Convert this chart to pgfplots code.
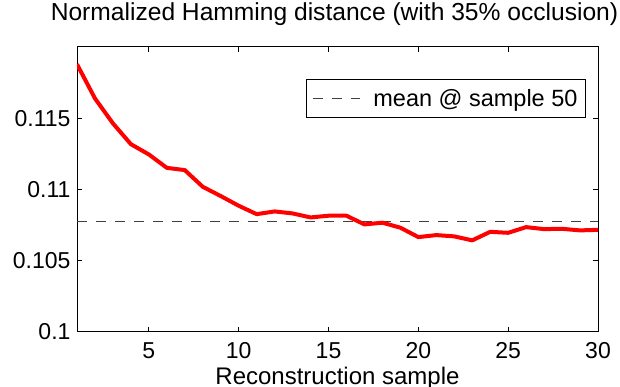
\documentclass[border=0pt]{standalone}
\usepackage{pgfplots}
\pgfplotsset{compat=1.18}
\usepackage{fontspec}
\setmainfont{Liberation Sans}
\usetikzlibrary{calc}
\definecolor{dashgray}{RGB}{64,64,64}
\begin{document}
\begin{tikzpicture}
\begin{axis}[
  scale only axis, width=521pt, height=285pt,
  xmin=1, xmax=30, ymin=0.1, ymax=0.12,
  xtick={5,10,15,20,25,30},
  xticklabels={5,10,15,20,25,30},
  ytick={0.1,0.105,0.11,0.115},
  yticklabels={0.1,0.105,0.11,0.115},
  tick align=inside, major tick length=5pt,
  axis line style={line width=1pt},
  every tick/.style={black, line width=1pt},
  tick label style={font=\fontsize{23}{27}\selectfont},
  xticklabel style={anchor=base, yshift=-27pt},
  yticklabel style={anchor=east, xshift=-3pt},
  title={Normalized Hamming distance (with 35\% occlusion)},
  title style={font=\fontsize{24.6}{29}\selectfont, at={(0.5,1)}, anchor=base, yshift=20pt, xshift=-3pt},
  xlabel={Reconstruction sample},
  xlabel style={font=\fontsize{24}{29}\selectfont, at={(0.5,0)}, anchor=base, yshift=-53pt},
  legend style={font=\fontsize{23.5}{28}\selectfont, at={(0.977,0.888)}, anchor=north east, draw=black, line width=1pt,
    inner xsep=6pt, inner ysep=8pt, cells={anchor=west}},
  legend image code/.code={\draw[#1] (0pt,0pt) -- (47pt,0pt);},
]
\addplot[dashgray, line width=1.3pt, dash pattern=on 10pt off 9pt] coordinates {(1,0.10773) (30,0.10773)};
\addlegendentry{\hspace{11pt}mean @ sample 50}
\addplot[red, line width=4pt, line join=round, forget plot] coordinates {
(1,0.11879) (2,0.11639) (3,0.11464) (4,0.11318) (5,0.11246) (6,0.11152)
(7,0.11136) (8,0.11019) (9,0.10954) (10,0.10886) (11,0.10827) (12,0.10846)
(13,0.10832) (14,0.10804) (15,0.10816) (16,0.10816) (17,0.10755) (18,0.10767)
(19,0.10732) (20,0.10666) (21,0.10680) (22,0.10671) (23,0.10643) (24,0.10703)
(25,0.10696) (26,0.10736) (27,0.10722) (28,0.10724) (29,0.10713) (30,0.10717)
};
\end{axis}
\pgfresetboundingbox
\path ($(current axis.south west)+(-77pt,-55pt)$) rectangle ($(current axis.north east)+(22pt,47pt)$);
\end{tikzpicture}
\end{document}
